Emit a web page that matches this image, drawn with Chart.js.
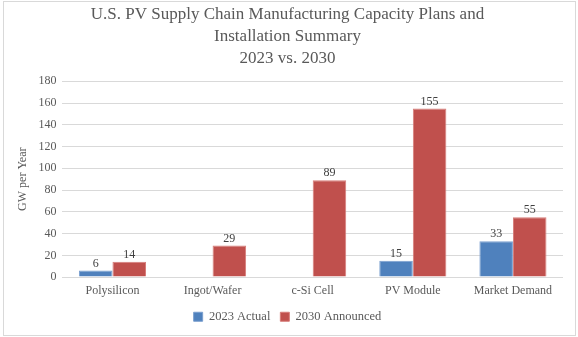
<!DOCTYPE html>
<html>
<head>
<meta charset="utf-8">
<script src="https://cdn.jsdelivr.net/npm/chart.js@4"></script>
<style>
  body { margin: 0; background: #fff; }
  #wrap { position: relative; width: 578px; height: 337px; }
  #frame { position: absolute; left: 3px; top: 1px; width: 573px; height: 335px; border: 1px solid #d9d9d9; box-sizing: border-box; pointer-events: none; }
</style>
</head>
<body>
<div id="wrap">
  <canvas id="chart" width="578" height="337"></canvas>
  <div id="frame"></div>
</div>
<script>
const categories = ["Polysilicon", "Ingot/Wafer", "c-Si Cell", "PV Module", "Market Demand"]
const actual2023 = [6, null, null, 15, 33]
const announced2030 = [14, 29, 89, 155, 55]
const yTicks = [0, 20, 40, 60, 80, 100, 120, 140, 160, 180]

const fontFamily = "'Liberation Serif', serif"
const textColor = "#595959"

// draws the value above each bar
const barLabels = {
    id: "barLabels",
    afterDatasetsDraw(chart){
        const ctx = chart.ctx
        ctx.save()
        ctx.font = "12px " + fontFamily
        ctx.fillStyle = "#404040"
        ctx.textAlign = "center"
        ctx.textBaseline = "bottom"
        chart.data.datasets.forEach((ds, i) => {
            chart.getDatasetMeta(i).data.forEach((bar, j) => {
                if(ds.data[j] == null) return
                ctx.fillText(ds.data[j], bar.x, bar.y - 1)
            })
        })
        ctx.restore()
    }
}

new Chart(document.getElementById("chart").getContext("2d"), {
    type: "bar",
    data: {
        labels: categories,
        datasets: [{
            label: "2023 Actual",
            data: actual2023,
            backgroundColor: "#4F81BD",
            borderColor: "#7a9fcf",
            borderWidth: 1
        }, {
            label: "2030 Announced",
            data: announced2030,
            backgroundColor: "#C0504D",
            borderColor: "#d77c79",
            borderWidth: 1
        }]
    },
    options: {
        responsive: false,
        animation: false,
        layout: { padding: { left: 12, right: 15, top: 1, bottom: 4 } },
        datasets: { bar: { categoryPercentage: 0.67, barPercentage: 1.0 } },
        plugins: {
            title: {
                display: true,
                text: ["U.S. PV Supply Chain Manufacturing Capacity Plans and", "Installation Summary", "2023 vs. 2030"],
                color: textColor,
                font: { family: fontFamily, size: 17, weight: "normal", lineHeight: 1.3 },
                padding: { top: 2, bottom: 12 }
            },
            legend: {
                position: "bottom",
                labels: {
                    color: textColor,
                    font: { family: fontFamily, size: 12.5 },
                    boxWidth: 9,
                    boxHeight: 9,
                    padding: 10
                }
            },
            tooltip: { enabled: false }
        },
        scales: {
            x: {
                grid: { display: false, drawTicks: false },
                border: { display: false },
                ticks: { color: textColor, font: { family: fontFamily, size: 12 }, padding: 7 },
                afterFit(axis){ axis.height -= 5 }
            },
            y: {
                min: 0,
                max: 180,
                afterBuildTicks(axis){ axis.ticks = yTicks.map(v => ({ value: v })) },
                grid: { color: "#d9d9d9", drawTicks: false },
                border: { display: false },
                ticks: { color: textColor, font: { family: fontFamily, size: 12 }, padding: 6 },
                title: { display: true, text: "GW per Year", color: textColor, font: { family: fontFamily, size: 12 }, padding: { top: 4, bottom: 2 } }
            }
        }
    },
    plugins: [barLabels]
})
</script>
</body>
</html>
